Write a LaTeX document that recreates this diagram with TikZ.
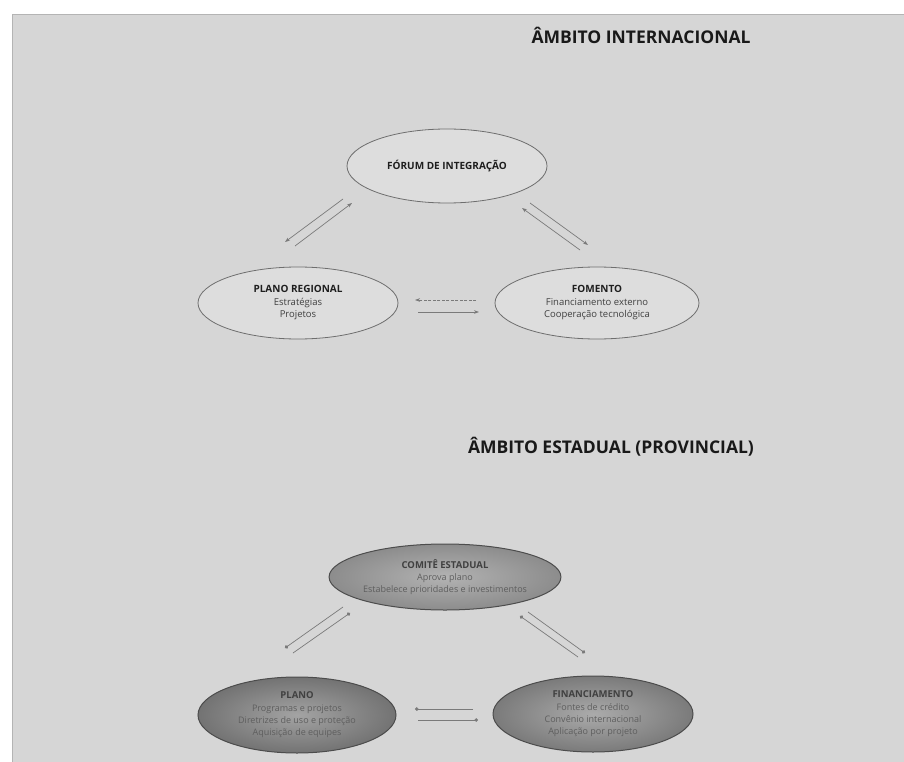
\documentclass[tikz,border=0pt]{standalone}
\usepackage{fontspec}
\setmainfont{Open Sans}
\usetikzlibrary{shapes.geometric,arrows.meta}
\definecolor{bg}{HTML}{D6D6D6}
\definecolor{panelline}{HTML}{B4B4B4}
\definecolor{topfill}{HTML}{DDDDDD}
\definecolor{topline}{HTML}{6E6E6E}
\definecolor{arrowcol}{HTML}{7A7A7A}
\definecolor{titlecol}{HTML}{1E1E1E}
\definecolor{subcol}{HTML}{404040}
\definecolor{dtitle}{HTML}{404040}
\definecolor{dsub}{HTML}{5E5E5E}
\begin{document}
\begin{tikzpicture}[x=1pt,y=-1pt,
  topell/.style={ellipse, draw=topline, line width=0.8pt, fill=topfill, inner sep=0pt, align=center,
    font=\fontsize{9.5}{12.5}\selectfont, text=subcol},
  botell/.style={ellipse, draw=black!70, line width=1pt, inner sep=0pt, align=center,
    font=\fontsize{9}{12.3}\selectfont, text=dsub, shading=radial},
  hdr/.style={font=\fontsize{17.5}{20}\selectfont\bfseries, text=black!90, inner sep=0pt},
  arr/.style={draw=arrowcol, line width=0.7pt, -{Stealth[length=5pt,width=3.6pt]}},
  darr/.style={draw=arrowcol, line width=0.7pt, -{Circle[length=3.6pt]}}
]
\useasboundingbox (0,0) rectangle (904,762);
\fill[white] (0,0) rectangle (904,762);
\fill[bg] (12,14) rectangle (904,762);
\draw[panelline, line width=0.8pt] (12,762) -- (12,14) -- (904,14);

% ---------- international ----------
\node[hdr] (hint) at (641,35) {ÂMBITO INTERNACIONAL};

\node[topell, minimum width=200pt, minimum height=74pt] (forum) at (447,166)
  {\textcolor{titlecol}{\bfseries\fontsize{10}{12}\selectfont FÓRUM DE INTEGRAÇÃO}};
\node[topell, minimum width=200pt, minimum height=72pt] (plreg) at (298,303)
  {\textcolor{titlecol}{\bfseries\fontsize{10}{12.5}\selectfont PLANO REGIONAL}\\Estratégias\\Projetos};
\node[topell, minimum width=204pt, minimum height=72pt] (foment) at (597,303)
  {\textcolor{titlecol}{\bfseries\fontsize{10}{12.5}\selectfont FOMENTO}\\Financiamento externo\\Cooperação tecnológica};

\coordinate (a1s) at (343,199); \coordinate (a1e) at (285,242);
\coordinate (a2s) at (295,246); \coordinate (a2e) at (352,203);
\coordinate (a3s) at (580,250); \coordinate (a3e) at (522,208);
\coordinate (a4s) at (530,203); \coordinate (a4e) at (588,245);
\coordinate (a5s) at (476,300); \coordinate (a5e) at (415,300);
\coordinate (a6s) at (418,312); \coordinate (a6e) at (479,312);
\draw[arr] (a1s) -- (a1e);
\draw[arr] (a2s) -- (a2e);
\draw[arr] (a3s) -- (a3e);
\draw[arr] (a4s) -- (a4e);
\draw[arr, dash pattern=on 3pt off 1.5pt] (a5s) -- (a5e);
\draw[arr] (a6s) -- (a6e);

% ---------- state ----------
\node[hdr] (hest) at (611,447) {ÂMBITO ESTADUAL (PROVINCIAL)};

\node[botell, inner color=black!30, outer color=black!45, minimum width=200pt, minimum height=66pt] (comite) at (445,577)
  {\textcolor{dtitle}{\bfseries\fontsize{9.5}{12}\selectfont COMITÊ ESTADUAL}\\Aprova plano\\Estabelece prioridades e investimentos};
\node[botell, inner color=black!36, outer color=black!55, minimum width=198pt, minimum height=76pt] (plano) at (297,715)
  {\textcolor{dtitle}{\bfseries\fontsize{9.5}{12}\selectfont PLANO}\\Programas e projetos\\Diretrizes de uso e proteção\\Aquisição de equipes};
\node[botell, inner color=black!33, outer color=black!52, minimum width=200pt, minimum height=76pt] (financ) at (593,714)
  {\textcolor{dtitle}{\bfseries\fontsize{9.5}{12}\selectfont FINANCIAMENTO}\\Fontes de crédito\\Convênio internacional\\Aplicação por projeto};

\coordinate (b1s) at (343,607); \coordinate (b1e) at (285,648);
\coordinate (b2s) at (293,653); \coordinate (b2e) at (350,613);
\coordinate (b3s) at (578,657); \coordinate (b3e) at (520,616);
\coordinate (b4s) at (528,612); \coordinate (b4e) at (585,653);
\coordinate (b5s) at (473,709); \coordinate (b5e) at (415,709);
\coordinate (b6s) at (418,720); \coordinate (b6e) at (478,720);
\draw[darr] (b1s) -- (b1e);
\draw[darr] (b2s) -- (b2e);
\draw[darr] (b3s) -- (b3e);
\draw[darr] (b4s) -- (b4e);
\draw[darr] (b5s) -- (b5e);
\draw[darr] (b6s) -- (b6e);
\end{tikzpicture}
\end{document}
